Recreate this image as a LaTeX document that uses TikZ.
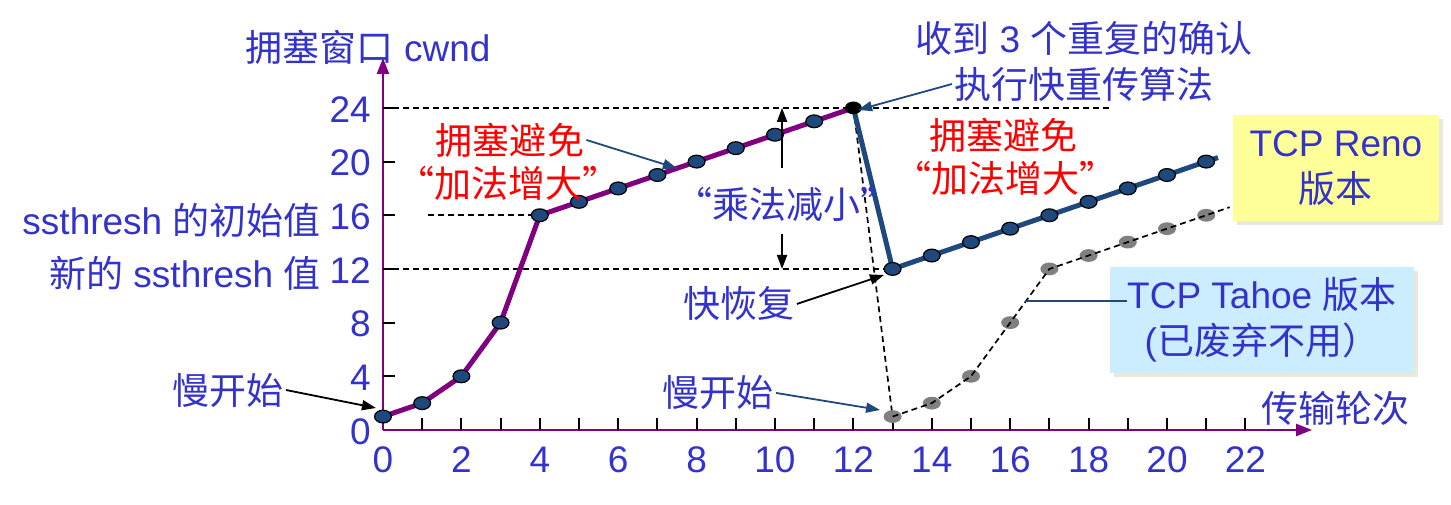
\documentclass[tikz,border=0pt]{standalone}
\usepackage{fontspec}
\setmainfont{Liberation Sans}
\newfontfamily\cjk{Noto Sans CJK SC}
\usetikzlibrary{arrows.meta,positioning,shadows}
\definecolor{txtblue}{RGB}{51,51,204}
\definecolor{cwndpurple}{RGB}{128,0,128}
\definecolor{renoblue}{RGB}{31,73,125}
\definecolor{renoyellow}{RGB}{255,255,153}
\definecolor{tahoeblue}{RGB}{204,236,255}
\definecolor{shadowgray}{RGB}{234,231,220}
\newcommand{\zh}[1]{{\cjk #1}}

\begin{document}
\begin{tikzpicture}[x=19.6pt,y=6.71pt,
  lbl/.style={text=txtblue,font=\fontsize{18.5}{23}\selectfont,inner sep=1pt},
  redlbl/.style={lbl,text=red},
  dashline/.style={black,line width=0.85pt,dash pattern=on 3pt off 2pt},
  ptr/.style={-{Triangle[length=7pt,width=5pt]},line width=0.9pt},
  axis/.style={cwndpurple,line width=1.2pt,-{Triangle[length=8pt,width=6pt]}},
  versionbox/.style={lbl,align=center,minimum height=53pt,
    drop shadow={shadow xshift=2pt,shadow yshift=-2pt,fill=shadowgray,opacity=1}}]
\useasboundingbox (-9.770,-5.589) rectangle (27.245,32.04);

\draw[axis] (0,0) -- (23.7,0);
\draw[axis] (0,0) -- (0,27.72);
\foreach \i in {1,...,22}
	\draw[line width=1pt] (\i,0) -- (\i,0.9);
\foreach \i in {4,8,...,24}
	\draw[line width=1pt] (0,\i) -- (0.3,\i);
\foreach \i in {0,2,...,22}
	\node[lbl] (x\i) at (\i,-2.24) {\i};
\foreach \i in {0,4,...,24}
	\node[lbl,anchor=east] (y\i) at (-0.25,\i-0.1) {\i};

\draw[dashline] (0,24) -- (18.62,24);
\draw[dashline] (1.15,16) -- (4,16);
\draw[dashline] (0,12) -- (12.86,12);
\draw[dashline] (12,24) -- (13,1);

\draw[cwndpurple,line width=2.5pt,line join=round] (0,1) -- (1,2) -- (2,4) -- (3,8) -- (4,16) -- (12,24);
\draw[renoblue,line width=2.5pt,line join=round] (12,24) -- (13,12) -- (21.3,20.3);
\foreach \x/\y in {13/1,14/2,15/4,16/8,17/12,18/13,19/14,20/15,21/16}
	\fill[gray] (\x,\y) ellipse (4.5pt and 3.2pt);
\draw[dashline] (13,1) -- (14,2) -- (15,4) -- (16,8) -- (17,12) -- (21.6,16.6);
\foreach \x/\y in {0/1,1/2,2/4,3/8,4/16,5/17,6/18,7/19,8/20,9/21,10/22,11/23,13/12,14/13,15/14,16/15,17/16,18/17,19/18,20/19,21/20}
	\filldraw[fill=renoblue,draw=black,line width=0.6pt] (\x,\y) ellipse (4.2pt and 3.2pt);
\fill[black] (12,24) ellipse (4.2pt and 3.2pt);

\coordinate (p0) at (-0.18,1.64);
\coordinate (p12) at (12.12,23.85);
\coordinate (caPt) at (7.5,19.5);
\coordinate (frPt) at (12.78,11.55);
\coordinate (ssPt) at (12.68,1.49);
\coordinate (m24) at (10.18,24);
\coordinate (m12) at (10.18,12);
\coordinate (tl) at (16.38,9.61);
\coordinate (tw) at (18.98,9.61);

\node[lbl] (cwnd) at (-0.38,28.54) {\zh{拥塞窗口} cwnd};
\node[lbl,anchor=east] (init) at (-1.53,15.65) {ssthresh \zh{的初始值}};
\node[lbl,anchor=east] (newth) at (-1.53,11.70) {\zh{新的} ssthresh \zh{值}};
\node[lbl] (ss1) at (-3.95,2.98) {\zh{慢开始}};
\node[lbl] (ss2) at (8.55,2.76) {\zh{慢开始}};
\node[lbl] (fr) at (9.08,9.39) {\zh{快恢复}};
\node[lbl] (mult) at (10.3,16.84) {\zh{“乘法减小”}};
\node[redlbl] (caL) at (3.24,21.61) {\zh{拥塞避免}};
\node[redlbl] (caLq) at (3.21,18.41) {\zh{“加法增大”}};
\node[redlbl] (caR) at (15.84,21.98) {\zh{拥塞避免}};
\node[redlbl] (caRq) at (15.87,18.78) {\zh{“加法增大”}};
\node[lbl] (dup) at (17.88,29.21) {\zh{收到} 3 \zh{个重复的确认}};
\node[lbl] (fast) at (17.88,25.78) {\zh{执行快重传算法}};
\node[lbl] (rounds) at (24.29,1.64) {\zh{传输轮次}};
\node[versionbox,fill=renoyellow,minimum width=103pt] (reno) at (24.31,19.52) {TCP Reno\\\zh{版本}};
\node[versionbox,fill=tahoeblue,minimum width=152pt] (tahoe) at (22.42,8.20) {TCP Tahoe \zh{版本}\\(\zh{已废弃不用）}};

\draw[ptr] (ss1.east) -- (p0);
\draw[ptr,renoblue] (ss2.east) -- (ssPt);
\draw[ptr] (fr.east) -- (frPt);
\draw[ptr,renoblue] (caL.east) -- (caPt);
\draw[ptr,renoblue] (fast.west) -- (p12);
\draw[ptr,shorten <=8pt] (mult.north -| m24) -- (m24);
\draw[ptr,shorten <=5pt] (mult.south -| m24) -- (m12);
\draw[renoblue,line width=1pt] (tl) -- (tw);

\end{tikzpicture}
\end{document}
